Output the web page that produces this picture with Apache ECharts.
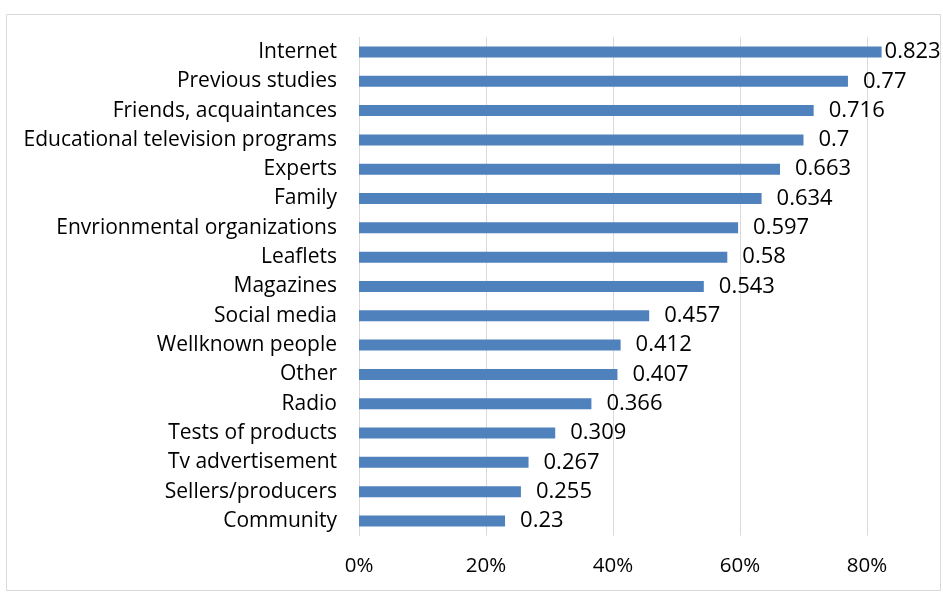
<!DOCTYPE html>
<html>
<head>
<meta charset="utf-8">
<script src="https://cdn.jsdelivr.net/npm/echarts@6/dist/echarts.min.js"></script>
<style>
  html, body { margin: 0; padding: 0; background: #fff; }
  #chart { width: 943px; height: 593px; }
</style>
</head>
<body>
<div id="chart"></div>
<script>
// sources of information, top to bottom
const categories = [
  'Internet', 'Previous studies', 'Friends, acquaintances', 'Educational television programs',
  'Experts', 'Family', 'Envrionmental organizations', 'Leaflets', 'Magazines', 'Social media',
  'Wellknown people', 'Other', 'Radio', 'Tests of products', 'Tv advertisement',
  'Sellers/producers', 'Community'
];
const values = [0.823, 0.77, 0.716, 0.7, 0.663, 0.634, 0.597, 0.58, 0.543, 0.457,
  0.412, 0.407, 0.366, 0.309, 0.267, 0.255, 0.23];

const font = '"Open Sans", "Noto Sans", sans-serif';
const chart = echarts.init(document.getElementById('chart'));

chart.setOption({
  backgroundColor: '#fff',
  animation: false,
  graphic: [{
    type: 'rect',
    shape: { x: 6.5, y: 14.5, width: 934, height: 576 },
    style: { fill: 'none', stroke: '#d9d9d9', lineWidth: 1 }
  }],
  grid: { left: 359, right: 12.5, top: 37.3, bottom: 57.4 },
  xAxis: {
    type: 'value',
    min: 0,
    max: 0.9,
    interval: 0.2,
    axisLine: { show: false },
    axisTick: { show: false },
    splitLine: { show: true, showMaxLine: false, lineStyle: { color: '#d9d9d9', width: 1 } },
    axisLabel: {
      showMaxLabel: false,
      margin: 20,
      fontFamily: font,
      fontSize: 20.5,
      color: '#000',
      formatter: v => Math.round(v * 100) + '%'
    }
  },
  yAxis: {
    type: 'category',
    inverse: true,
    data: categories,
    axisLine: { show: true, lineStyle: { color: '#d9d9d9' } },
    axisTick: { show: false },
    axisLabel: { margin: 22, fontFamily: font, fontSize: 21, color: '#000' }
  },
  series: [{
    type: 'bar',
    barWidth: 11,
    clip: false,
    itemStyle: { color: '#4f81bd' },
    label: {
      show: true,
      position: 'right',
      distance: 15,
      fontFamily: font,
      fontSize: 22,
      color: '#000',
      formatter: p => String(p.value)
    },
    data: values.map((v, i) => i === 0 ? { value: v, label: { distance: 3 } } : v)
  }]
});
</script>
</body>
</html>
